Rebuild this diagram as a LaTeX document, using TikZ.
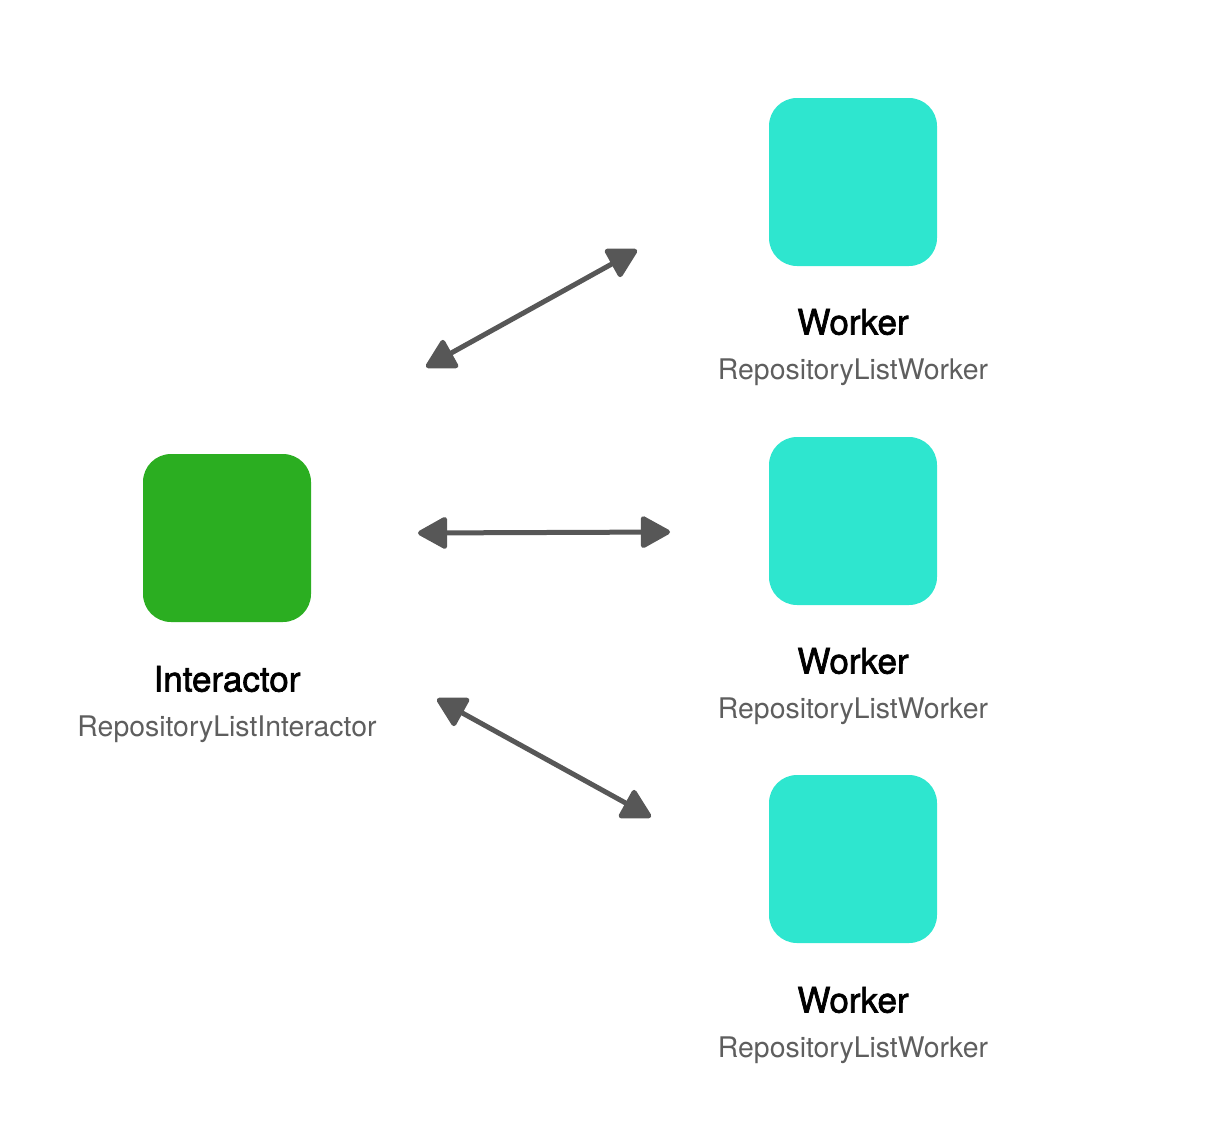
\documentclass[tikz,border=0pt]{standalone}
\usepackage{fontspec}
\setmainfont{TeX Gyre Heros}
\newfontfamily\titlefont[FakeBold=2]{TeX Gyre Heros}
\usetikzlibrary{arrows.meta}
\definecolor{intgreen}{HTML}{2BAE21}
\definecolor{workcyan}{HTML}{2EE6CF}
\definecolor{subgray}{HTML}{5E5E5E}
\definecolor{arrgray}{HTML}{575757}
\tikzset{
  box/.style={minimum width=168pt, minimum height=168pt, rounded corners=28pt, inner sep=0pt},
  interbox/.style={box, fill=intgreen},
  workbox/.style={box, fill=workcyan},
  title/.style={font=\titlefont\fontsize{35}{40}\selectfont, text=black, inner sep=0pt},
  sub/.style={font=\fontsize{28.4}{33}\selectfont, text=subgray, inner sep=0pt},
  link/.style={draw=arrgray, line width=5pt, line cap=round,
    {Triangle[length=32pt,width=34pt,round]}-{Triangle[length=32pt,width=34pt,round]}}
}
\begin{document}
\begin{tikzpicture}[x=1pt,y=-1pt]
\useasboundingbox (0,0) rectangle (1210,1144);
\node[interbox] (int) at (227,538) {};
\node[workbox] (w1) at (853,182) {};
\node[workbox] (w2) at (853,521) {};
\node[workbox] (w3) at (853,859) {};
\node[title] (intt) at (227,679) {Interactor};
\node[sub] (ints) at (227,729.5) {RepositoryListInteractor};
\node[title] (w1t) at (853,322) {Worker};
\node[sub] (w1s) at (853,372.5) {RepositoryListWorker};
\node[title] (w2t) at (853,661) {Worker};
\node[sub] (w2s) at (853,711.5) {RepositoryListWorker};
\node[title] (w3t) at (853,1000) {Worker};
\node[sub] (w3s) at (853,1050.5) {RepositoryListWorker};
\coordinate (a1s) at (426,367);
\coordinate (a1e) at (637,250);
\coordinate (a2s) at (418,533);
\coordinate (a2e) at (670,532);
\coordinate (a3s) at (437,699);
\coordinate (a3e) at (651,817);
\draw[link] (a1s) -- (a1e);
\draw[link] (a2s) -- (a2e);
\draw[link] (a3s) -- (a3e);
\end{tikzpicture}
\end{document}
